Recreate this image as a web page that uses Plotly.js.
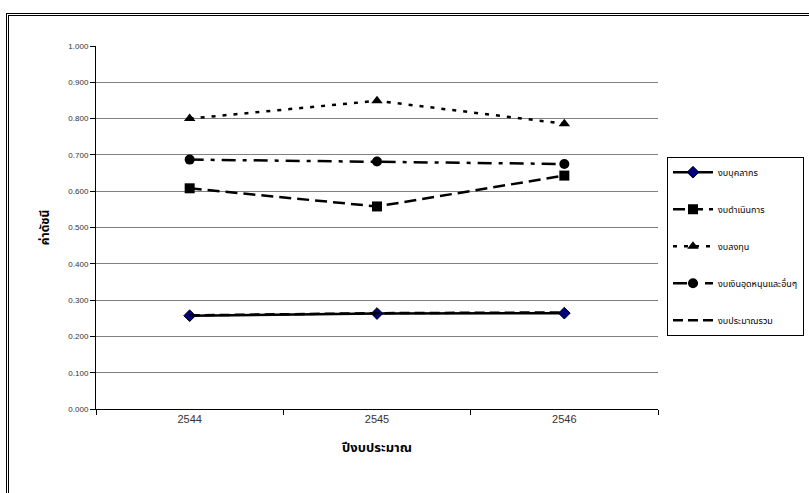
<!DOCTYPE html>
<html><head><meta charset="utf-8">
<script src="https://cdn.plot.ly/plotly-3.0.1.min.js"></script>
<style>
html,body{margin:0;padding:0;background:#fff;}
#frame{position:absolute;left:6px;top:13px;width:810px;height:490px;border-left:3px double #000;border-top:3px double #000;box-sizing:border-box;pointer-events:none;z-index:5;}
#chart{position:absolute;left:0;top:0;width:809px;height:493px;}
</style></head>
<body>
<div id="chart"></div>
<div id="frame"></div>
<script>
const years = ['2544', '2545', '2546'];
const seriesNames = ['งบบุคลากร', 'งบดำเนินการ', 'งบลงทุน', 'งบเงินอุดหนุนและอื่นๆ', 'งบประมาณรวม'];
const personnel = [0.257, 0.263, 0.264];
const operating = [0.608, 0.558, 0.643];
const investment = [0.800, 0.849, 0.786];
const subsidy = [0.687, 0.682, 0.675];
const total = [0.258, 0.264, 0.266];
const yTicks = [0, 0.1, 0.2, 0.3, 0.4, 0.5, 0.6, 0.7, 0.8, 0.9, 1.0];

const FONT = 'Liberation Sans, Arial, "Noto Sans Thai", sans-serif';
function tr(i, y, dash, marker) {
  const t = {
    x: years, y: y, name: seriesNames[i], type: 'scatter',
    mode: marker ? 'lines+markers' : 'lines',
    line: {color: '#000', width: 2.5, dash: dash},
    legendgroup: 'g' + i
  };
  if (marker) t.marker = marker;
  return t;
}
const data = [
  tr(0, personnel, 'solid', {symbol: 'diamond', size: 9, color: '#000080', line: {color: '#000', width: 1}}),
  tr(1, operating, '12px,6px', {symbol: 'square', size: 10, color: '#000'}),
  tr(2, investment, '4px,7px', {symbol: 'triangle-up', size: 10, color: '#000'}),
  tr(3, subsidy, '14px,7px,4px,7px', {symbol: 'circle', size: 10, color: '#000'}),
  tr(4, total, '10px,5px', null)
];
const layout = {
  width: 809, height: 493,
  margin: {l: 96, r: 151, t: 46, b: 84, autoexpand: false},
  paper_bgcolor: '#fff', plot_bgcolor: '#fff',
  font: {family: FONT, color: '#000'},
  showlegend: true,
  legend: {
    x: 1.016, y: 0.695, xanchor: 'left', yanchor: 'top',
    bordercolor: '#000', borderwidth: 1, bgcolor: '#fff',
    font: {size: 9, family: FONT}, tracegroupgap: 18, itemwidth: 40
  },
  xaxis: {
    type: 'category', range: [-0.5, 2.5], tickson: 'boundaries',
    ticks: 'outside', ticklen: 5, tickcolor: '#000',
    showline: true, linecolor: '#000', linewidth: 1,
    showgrid: false, zeroline: false,
    tickfont: {size: 11, color: '#333'},
    title: {text: '<b>ปีงบประมาณ</b>', font: {size: 13}, standoff: 18}
  },
  yaxis: {
    range: [0, 1.0], tickvals: yTicks, ticktext: yTicks.map(v => v.toFixed(3)),
    ticks: 'outside', ticklen: 5, tickcolor: '#000',
    showline: true, linecolor: '#000', linewidth: 1,
    showgrid: true, gridcolor: '#808080', gridwidth: 1, zeroline: false,
    tickfont: {size: 8, color: '#333'},
    title: {text: '<b>ค่าดัชนี</b>', font: {size: 12}, standoff: 16}
  }
};
Plotly.newPlot('chart', data, layout, {staticPlot: true, displayModeBar: false});
</script>
</body></html>
